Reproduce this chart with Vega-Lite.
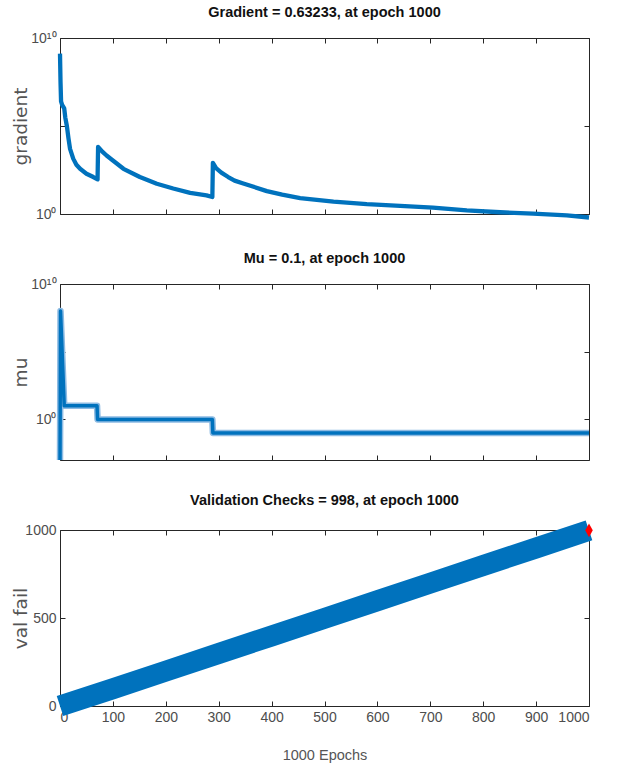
{
  "$schema": "https://vega.github.io/schema/vega-lite/v6.json",
  "background": "white",
  "padding": {"left": 10, "top": 4, "right": 5, "bottom": 3},
  "bounds": "flush",
  "spacing": 70,
  "datasets": {
    "grad": [
      {"epoch": 0, "gradient": 1300000000},
      {"epoch": 1, "gradient": 30000000},
      {"epoch": 2, "gradient": 2500000},
      {"epoch": 4, "gradient": 1600000},
      {"epoch": 8, "gradient": 1000000},
      {"epoch": 10, "gradient": 300000},
      {"epoch": 13, "gradient": 100000},
      {"epoch": 16, "gradient": 20000},
      {"epoch": 19, "gradient": 5000},
      {"epoch": 25, "gradient": 1400},
      {"epoch": 31, "gradient": 630},
      {"epoch": 38, "gradient": 370},
      {"epoch": 50, "gradient": 195},
      {"epoch": 63, "gradient": 126},
      {"epoch": 71, "gradient": 93},
      {"epoch": 72, "gradient": 6500},
      {"epoch": 80, "gradient": 3500},
      {"epoch": 88, "gradient": 2100},
      {"epoch": 100, "gradient": 1100},
      {"epoch": 120, "gradient": 370},
      {"epoch": 151, "gradient": 126},
      {"epoch": 183, "gradient": 52},
      {"epoch": 214, "gradient": 28},
      {"epoch": 246, "gradient": 16},
      {"epoch": 277, "gradient": 11.5},
      {"epoch": 288, "gradient": 9.3},
      {"epoch": 289, "gradient": 800},
      {"epoch": 295, "gradient": 400},
      {"epoch": 305, "gradient": 224},
      {"epoch": 318, "gradient": 126},
      {"epoch": 330, "gradient": 79},
      {"epoch": 345, "gradient": 56},
      {"epoch": 360, "gradient": 40},
      {"epoch": 391, "gradient": 20},
      {"epoch": 420, "gradient": 12.6},
      {"epoch": 454, "gradient": 8},
      {"epoch": 517, "gradient": 5},
      {"epoch": 580, "gradient": 3.6},
      {"epoch": 643, "gradient": 2.9},
      {"epoch": 705, "gradient": 2.3},
      {"epoch": 769, "gradient": 1.6},
      {"epoch": 832, "gradient": 1.26},
      {"epoch": 894, "gradient": 1.05},
      {"epoch": 958, "gradient": 0.83},
      {"epoch": 1000, "gradient": 0.63233}
    ],
    "mu": [
      {"epoch": 0, "mu": 0.001},
      {"epoch": 1, "mu": 100000000},
      {"epoch": 8, "mu": 10},
      {"epoch": 70, "mu": 10},
      {"epoch": 71, "mu": 1},
      {"epoch": 288, "mu": 1},
      {"epoch": 289, "mu": 0.1},
      {"epoch": 1000, "mu": 0.1}
    ],
    "val": [
      {"epoch": 0, "valfail": 0},
      {"epoch": 100, "valfail": 98},
      {"epoch": 200, "valfail": 198},
      {"epoch": 300, "valfail": 298},
      {"epoch": 400, "valfail": 398},
      {"epoch": 500, "valfail": 498},
      {"epoch": 600, "valfail": 598},
      {"epoch": 700, "valfail": 698},
      {"epoch": 800, "valfail": 798},
      {"epoch": 900, "valfail": 898},
      {"epoch": 1000, "valfail": 998}
    ],
    "best": [
      {"epoch": 1000, "valfail": 998}
    ]
  },
  "config": {
    "view": {"stroke": "#262626", "strokeWidth": 1},
    "axis": {
      "grid": false,
      "domain": false,
      "tickSize": -5,
      "tickColor": "#262626",
      "tickWidth": 1,
      "labelPadding": 9,
      "labelFont": "Liberation Sans",
      "labelFontSize": 14,
      "labelColor": "#4d4d4d",
      "format": "d",
      "titleFont": "DejaVu Sans",
      "titleFontSize": 18.5,
      "titleFontWeight": "normal",
      "titleColor": "#555555"
    },
    "title": {
      "font": "Liberation Sans",
      "fontSize": 14.5,
      "fontWeight": "bold",
      "color": "#111111",
      "baseline": "alphabetic",
      "frame": "group",
      "offset": 11
    }
  },
  "vconcat": [
    {
      "title": "Gradient = 0.63233, at epoch 1000",
      "width": 529,
      "height": 176,
      "data": {"name": "grad"},
      "layer": [
        {
          "mark": {"type": "line", "color": "#0072BD", "strokeWidth": 4.3, "strokeJoin": "round", "clip": false},
          "encoding": {
            "x": {"field": "epoch", "type": "quantitative", "scale": {"domain": [0, 1000], "nice": false},
                  "axis": {"orient": "bottom", "values": [0,100,200,300,400,500,600,700,800,900,1000], "labels": false, "title": null}},
            "y": {"field": "gradient", "type": "quantitative", "scale": {"type": "log", "domain": [1, 10000000000], "nice": false},
                  "axis": {"orient": "left", "values": [1, 100000, 10000000000], "labelExpr": "datum.value == 1 ? '10⁰' : datum.value == 10000000000 ? '10¹⁰' : ''", "title": "gradient", "titleX": -34, "titleBaseline": "alphabetic"}}
          }
        },
        {
          "mark": {"type": "line", "opacity": 0},
          "encoding": {
            "x": {"field": "epoch", "type": "quantitative", "axis": {"orient": "top", "values": [0,100,200,300,400,500,600,700,800,900,1000], "labels": false, "title": null}},
            "y": {"field": "gradient", "type": "quantitative", "axis": {"orient": "right", "values": [1, 100000, 10000000000], "labels": false, "title": null}}
          }
        }
      ],
      "resolve": {"axis": {"x": "independent", "y": "independent"}}
    },
    {
      "title": "Mu = 0.1, at epoch 1000",
      "width": 529,
      "height": 176,
      "data": {"name": "mu"},
      "layer": [
        {
          "mark": {"type": "line", "color": "#8dbbe3", "strokeWidth": 6.5, "strokeJoin": "round"},
          "encoding": {
            "x": {"field": "epoch", "type": "quantitative", "scale": {"domain": [0, 1000], "nice": false},
                  "axis": {"orient": "bottom", "values": [0,100,200,300,400,500,600,700,800,900,1000], "labels": false, "title": null}},
            "y": {"field": "mu", "type": "quantitative", "scale": {"type": "log", "domain": [0.001, 10000000000], "nice": false},
                  "axis": {"orient": "left", "values": [1, 100000, 10000000000], "labelExpr": "datum.value == 1 ? '10⁰' : datum.value == 10000000000 ? '10¹⁰' : ''", "title": "mu", "titleX": -34, "titleBaseline": "alphabetic"}}
          }
        },
        {
          "mark": {"type": "line", "color": "#0072BD", "strokeWidth": 3.5, "strokeJoin": "round"},
          "encoding": {
            "x": {"field": "epoch", "type": "quantitative", "axis": {"orient": "top", "values": [0,100,200,300,400,500,600,700,800,900,1000], "labels": false, "title": null}},
            "y": {"field": "mu", "type": "quantitative", "axis": {"orient": "right", "values": [1, 100000, 10000000000], "labels": false, "title": null}}
          }
        }
      ],
      "resolve": {"axis": {"x": "independent", "y": "independent"}}
    },
    {
      "title": "Validation Checks = 998, at epoch 1000",
      "width": 529,
      "height": 176,
      "layer": [
        {
          "data": {"name": "val"},
          "mark": {"type": "line", "color": "#0072BD", "strokeWidth": 21, "strokeJoin": "round", "clip": false},
          "encoding": {
            "x": {"field": "epoch", "type": "quantitative", "scale": {"domain": [0, 1000], "nice": false},
                  "axis": {"orient": "bottom", "values": [0,100,200,300,400,500,600,700,800,900,1000], "title": "1000 Epochs", "titleFont": "Liberation Sans", "titleFontSize": 14.5, "titleY": 53, "titleBaseline": "alphabetic"}},
            "y": {"field": "valfail", "type": "quantitative", "scale": {"domain": [0, 1000], "nice": false},
                  "axis": {"orient": "left", "values": [0, 500, 1000], "title": "val fail", "titleX": -34, "titleBaseline": "alphabetic"}}
          }
        },
        {
          "data": {"name": "best"},
          "mark": {"type": "point", "shape": "M0,-1L0.55,0L0,1L-0.55,0Z", "size": 190, "filled": true, "color": "#ff0000", "opacity": 1, "clip": false},
          "encoding": {
            "x": {"field": "epoch", "type": "quantitative", "axis": {"orient": "top", "values": [0,100,200,300,400,500,600,700,800,900,1000], "labels": false, "title": null}},
            "y": {"field": "valfail", "type": "quantitative", "axis": {"orient": "right", "values": [0, 500, 1000], "labels": false, "title": null}}
          }
        }
      ],
      "resolve": {"axis": {"x": "independent", "y": "independent"}}
    }
  ]
}
